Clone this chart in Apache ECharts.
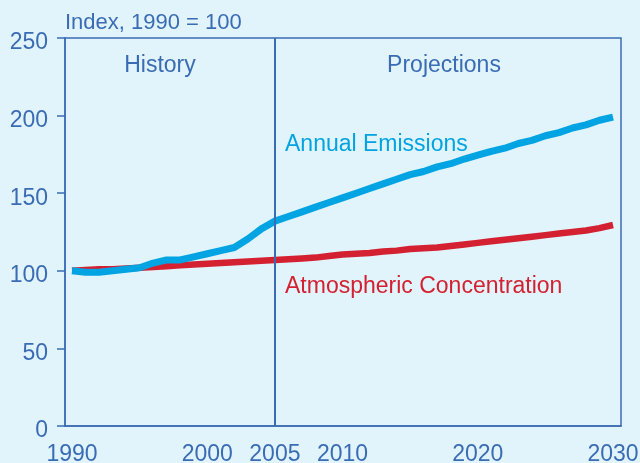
<!DOCTYPE html>
<html>
<head>
<meta charset="utf-8">
<script src="https://cdn.jsdelivr.net/npm/echarts@6/dist/echarts.min.js"></script>
<style>
html,body{margin:0;padding:0;background:#e1f3fb;}
#c{width:640px;height:463px;}
</style>
</head>
<body>
<div id="c"></div>
<script>
var years = [1990,1991,1992,1993,1994,1995,1996,1997,1998,1999,2000,2001,2002,2003,2004,2005,2006,2007,2008,2009,2010,2011,2012,2013,2014,2015,2016,2017,2018,2019,2020,2021,2022,2023,2024,2025,2026,2027,2028,2029,2030];
var annualEmissions = [100,99,99,100,101,102,105,107,107,109,111,113,115,120.5,127,132,135,138,141,144,147,150,153,156,159,162,164,167,169,172,174.5,177,179,182,184,187,189,192,194,197,199];
var atmosphericConcentration = [100,100.5,101,101,101.5,102,102.5,103,103.5,104,104.5,105,105.5,106,106.5,107,107.5,108,108.5,109.5,110.5,111,111.5,112.5,113,114,114.5,115,116,117,118,119,120,121,122,123,124,125,126,127.5,129.5];
var xTickLabels = [1990,2000,2005,2010,2020,2030];
var dividerYear = 2005;
var periodLabels = ['History','Projections'];
var seriesNames = ['Annual Emissions','Atmospheric Concentration'];
var yTitle = 'Index, 1990 = 100';

var AX = '#3a6cb4', CY = '#00a4e2', RD = '#d42131';
var FONT = 'Liberation Sans, Arial, Helvetica, sans-serif';
var FS = 23;

function pairs(v){ return years.map(function(y,i){ return [y, v[i]]; }); }

var chart = echarts.init(document.getElementById('c'), null, {renderer:'canvas'});
chart.setOption({
  backgroundColor: '#e1f3fb',
  animation: false,
  textStyle: {fontFamily: FONT},
  grid: {left: 65, right: 19, top: 38, bottom: 37, outerBoundsMode: 'none', containLabel: false, show: true, borderColor: AX, borderWidth: 1.5, backgroundColor: 'transparent'},
  xAxis: {
    type: 'value', min: 1989.482, max: 2030.59,
    splitLine: {show: false},
    axisLine: {show: true, lineStyle: {color: AX, width: 1.5}},
    axisTick: {show: false},
    axisLabel: {customValues: xTickLabels, color: AX, fontSize: FS, fontFamily: FONT, margin: 17, formatter: function(v){return String(v);}}
  },
  yAxis: {
    type: 'value', min: 0, max: 250, interval: 50,
    name: yTitle, nameLocation: 'end', nameGap: 4,
    nameTextStyle: {color: AX, fontSize: FS - 1, fontFamily: FONT, align: 'left'},
    splitLine: {show: false},
    axisLine: {show: true, lineStyle: {color: AX, width: 1.5}},
    axisTick: {show: true, inside: false, length: 8, lineStyle: {color: AX, width: 1.5}},
    axisLabel: {color: AX, fontSize: FS, fontFamily: FONT, margin: 17, verticalAlign: 'top', lineHeight: 10}
  },
  series: [
    {
      name: seriesNames[1], type: 'line', data: pairs(atmosphericConcentration),
      showSymbol: false, lineStyle: {color: RD, width: 6.5}, z: 3,
      markLine: {
        silent: true, symbol: ['none','none'],
        lineStyle: {color: AX, width: 2, type: 'solid'},
        label: {show: false},
        data: [{xAxis: dividerYear}]
      }
    },
    {
      name: seriesNames[0], type: 'line', data: pairs(annualEmissions),
      showSymbol: false, lineStyle: {color: CY, width: 7}, z: 4
    }
  ],
  graphic: [
    {type: 'text', x: 160, y: 66, style: {text: periodLabels[0], fill: AX, font: FS + 'px ' + FONT, textAlign: 'center', textVerticalAlign: 'middle'}},
    {type: 'text', x: 444, y: 66, style: {text: periodLabels[1], fill: AX, font: FS + 'px ' + FONT, textAlign: 'center', textVerticalAlign: 'middle'}},
    {type: 'text', x: 285, y: 145, style: {text: seriesNames[0], fill: CY, font: FS + 'px ' + FONT, textAlign: 'left', textVerticalAlign: 'middle'}},
    {type: 'text', x: 285, y: 287, style: {text: seriesNames[1], fill: RD, font: FS + 'px ' + FONT, textAlign: 'left', textVerticalAlign: 'middle'}}
  ]
});
</script>
</body>
</html>
